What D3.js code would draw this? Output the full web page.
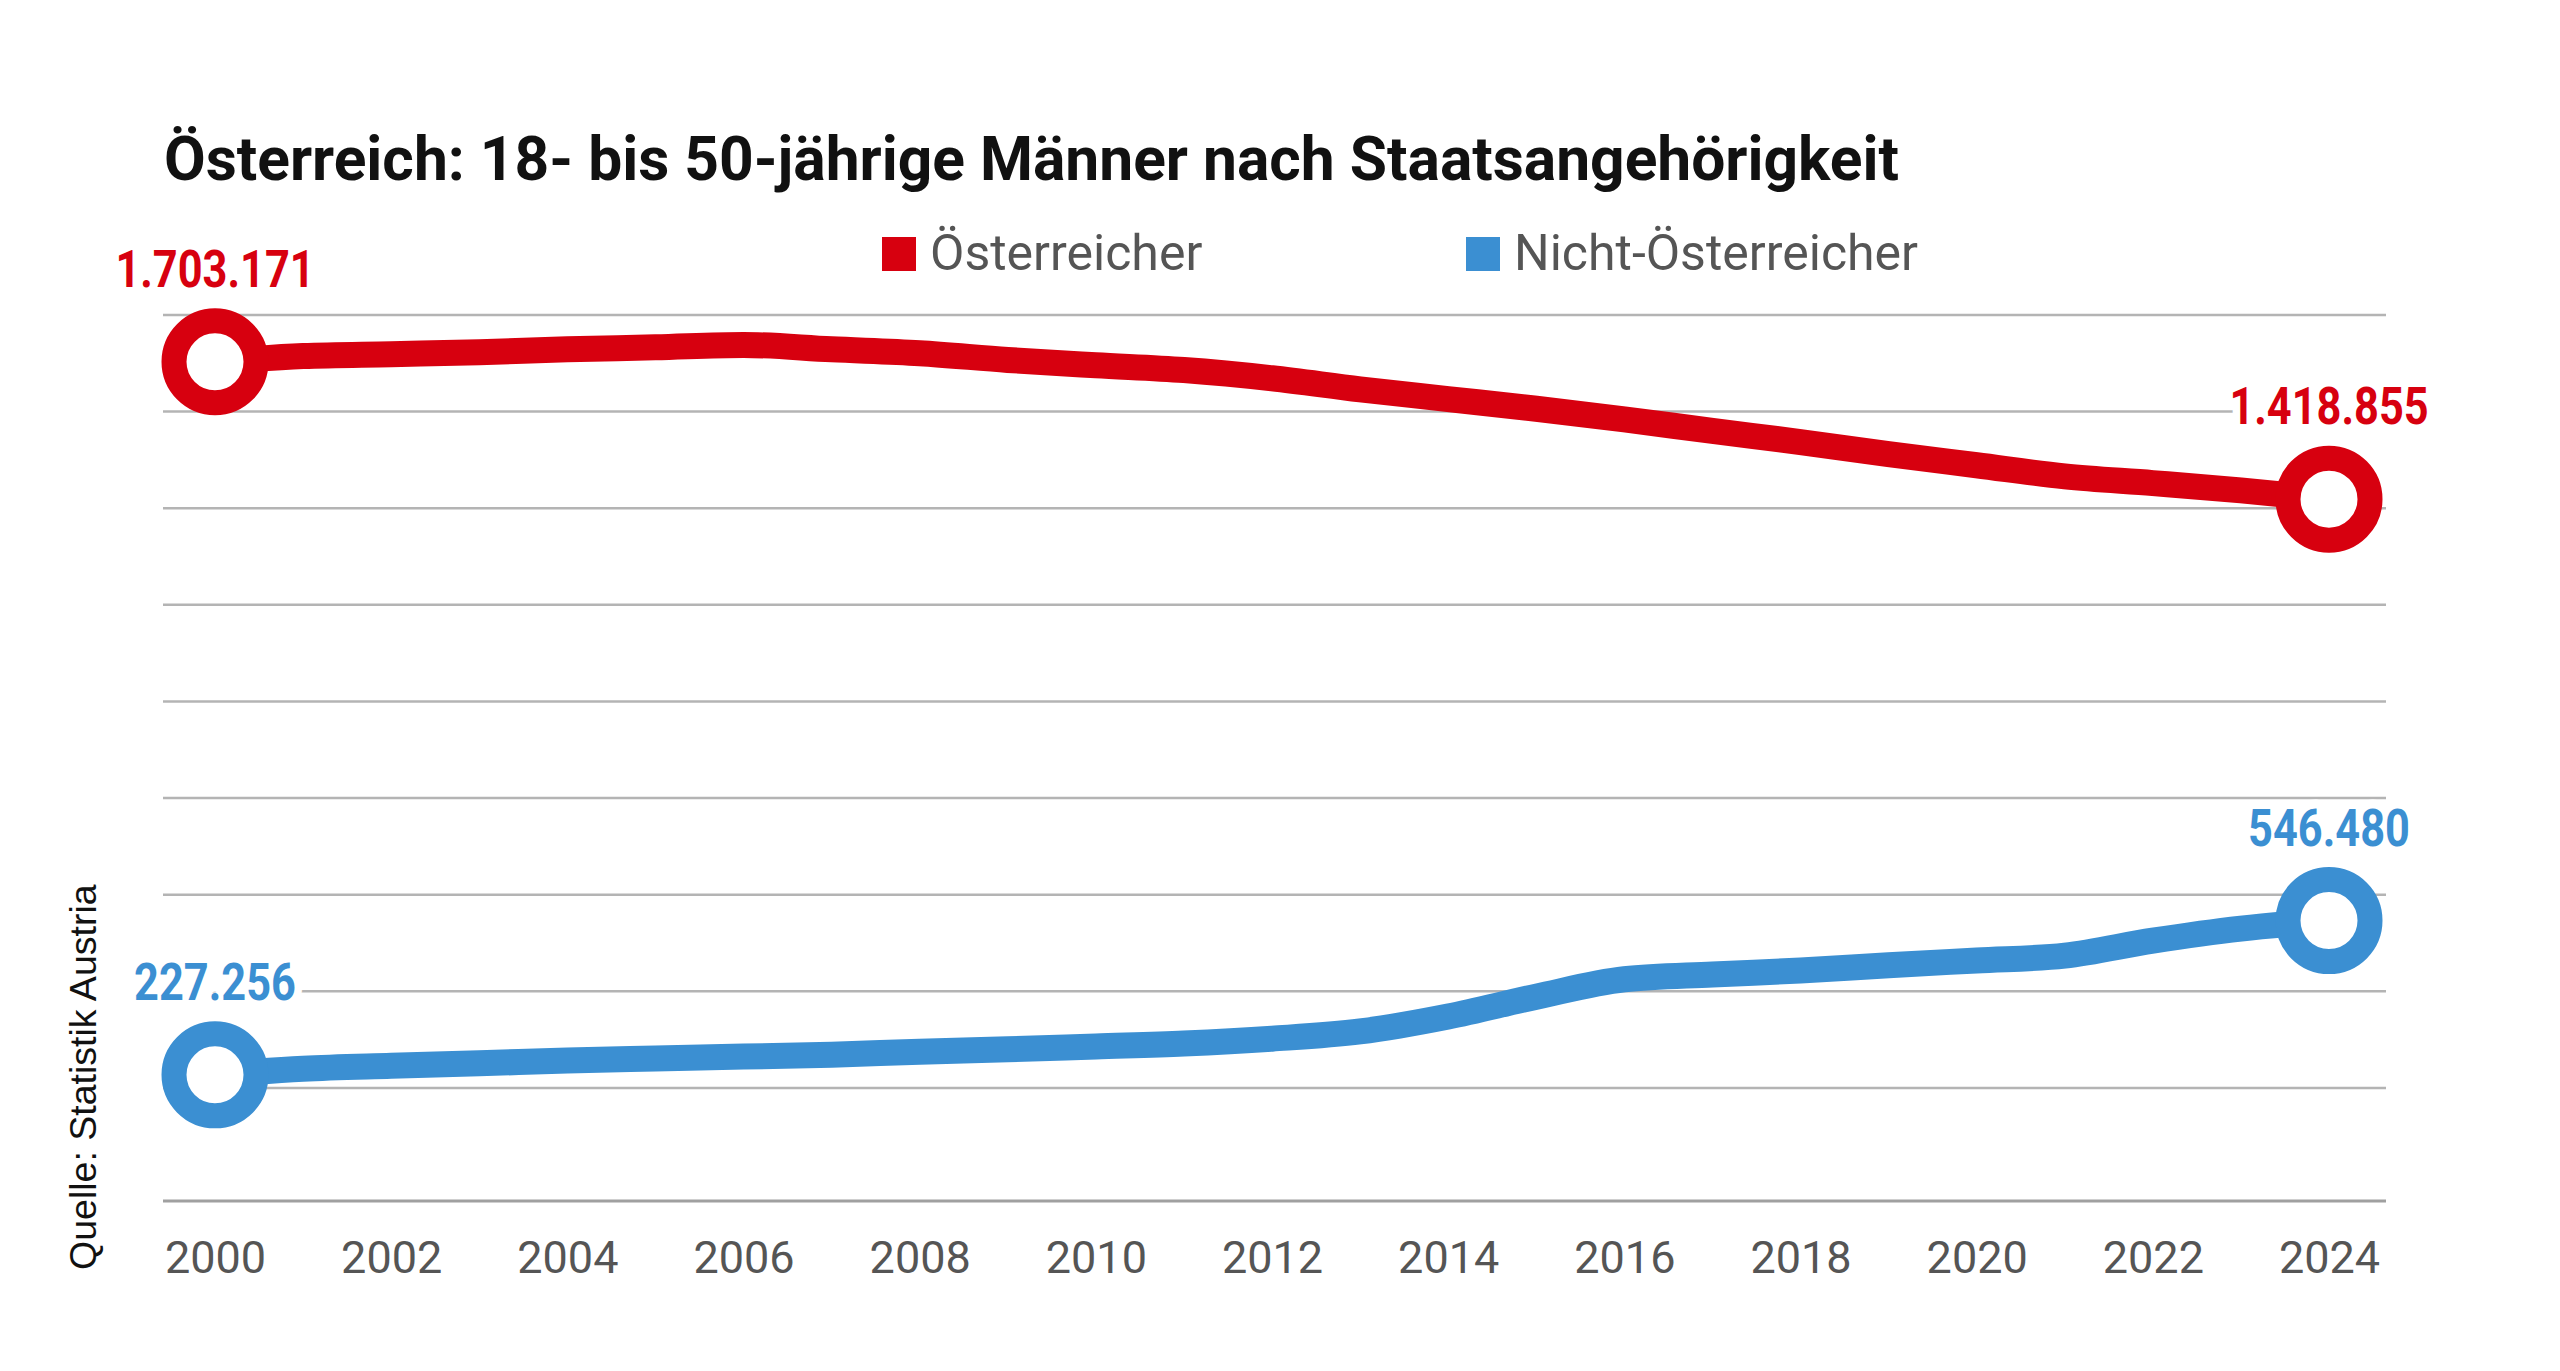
<!DOCTYPE html>
<html>
<head>
<meta charset="utf-8">
<script src="https://cdn.jsdelivr.net/npm/d3@7"></script>
<style>
  html, body { margin: 0; padding: 0; background: #fff; }
  svg { display: block; }
</style>
</head>
<body>
<svg id="chart" width="2560" height="1371"></svg>
<script>
// ---------- data ----------
const title = "Österreich: 18- bis 50-jährige Männer nach Staatsangehörigkeit";
const source = "Quelle: Statistik Austria";
const years = [2000,2001,2002,2003,2004,2005,2006,2007,2008,2009,2010,2011,2012,
               2013,2014,2015,2016,2017,2018,2019,2020,2021,2022,2023,2024];
const seriesNames = ["Österreicher", "Nicht-Österreicher"];
const seriesColors = ["#d7000f", "#3b8fd2"];
const oesterreicher = [1703171,1715000,1719000,1723000,1729000,1733000,1738000,1729000,1721000,
                       1707000,1696000,1686000,1669000,1646000,1626000,1606000,1584000,1560000,
                       1537000,1512000,1489000,1466000,1452000,1437000,1418855];
const nichtOesterreicher = [227256,240000,246000,251000,257000,261000,265000,269000,275000,
                            280000,286000,292000,302000,317000,348000,389000,425000,435000,
                            443000,454000,464000,474000,505000,530000,546480];
const xTicks = [2000,2002,2004,2006,2008,2010,2012,2014,2016,2018,2020,2022,2024];
const yGridTicks = [200000,400000,600000,800000,1000000,1200000,1400000,1600000,1800000];

// ---------- setup ----------
const svg = d3.select("#chart");
svg.append("rect").attr("width", 2560).attr("height", 1371).attr("fill", "#fff");

const x = d3.scaleLinear().domain([2000, 2024]).range([215, 2329]);
const y = d3.scaleLinear().domain([0, 1800000]).range([1184.6, 315]);
const gridLeft = 163, gridRight = 2386, axisY = 1201;

const de = d3.formatLocale({decimal: ",", thousands: ".", grouping: [3], currency: ["", "€"]});
const fmt = de.format(",d");

// ---------- title ----------
svg.append("text")
  .attr("x", 164).attr("y", 180)
  .attr("font-family", "Roboto, 'Noto Sans', sans-serif")
  .attr("font-weight", 700).attr("font-size", 60.5)
  .attr("fill", "#111")
  .text(title);

// ---------- legend ----------
const legendX = [882, 1466];
const legend = svg.append("g");
seriesNames.forEach((name, i) => {
  legend.append("rect")
    .attr("x", legendX[i]).attr("y", 237).attr("width", 34).attr("height", 34)
    .attr("fill", seriesColors[i]);
  legend.append("text")
    .attr("x", legendX[i] + 48).attr("y", 270)
    .attr("font-family", "Roboto, 'Noto Sans', sans-serif")
    .attr("font-size", 50).attr("fill", "#555")
    .text(name);
});

// ---------- gridlines ----------
svg.append("g").selectAll("line").data(yGridTicks).join("line")
  .attr("x1", gridLeft).attr("x2", gridRight)
  .attr("y1", d => y(d)).attr("y2", d => y(d))
  .attr("stroke", "#b4b4b4").attr("stroke-width", 2.5);

// ---------- x axis ----------
svg.append("line")
  .attr("x1", gridLeft).attr("x2", gridRight)
  .attr("y1", axisY).attr("y2", axisY)
  .attr("stroke", "#a0a0a0").attr("stroke-width", 3);

const xAxis = svg.append("g")
  .attr("transform", `translate(0,${axisY})`)
  .call(d3.axisBottom(x).tickValues(xTicks).tickSize(0).tickPadding(40).tickFormat(d3.format("d")));
xAxis.select(".domain").remove();
xAxis.selectAll("text")
  .attr("font-family", "Roboto, 'Noto Sans', sans-serif")
  .attr("font-size", 45).attr("fill", "#555");

// ---------- lines ----------
const allSeries = [oesterreicher, nichtOesterreicher];
const line = d3.line()
  .x((d, i) => x(years[i]))
  .y(d => y(d))
  .curve(d3.curveMonotoneX);

svg.append("g").selectAll("path").data(allSeries).join("path")
  .attr("d", d => line(d))
  .attr("fill", "none")
  .attr("stroke", (d, i) => seriesColors[i])
  .attr("stroke-width", 26)
  .attr("stroke-linejoin", "round");

// ---------- end markers + labels ----------
const ends = [];
allSeries.forEach((s, i) => {
  ends.push({year: years[0], value: s[0], color: seriesColors[i]});
  ends.push({year: years[years.length - 1], value: s[s.length - 1], color: seriesColors[i]});
});

svg.append("g").selectAll("circle").data(ends).join("circle")
  .attr("cx", d => x(d.year)).attr("cy", d => y(d.value))
  .attr("r", 41)
  .attr("fill", "#fff")
  .attr("stroke", d => d.color)
  .attr("stroke-width", 25);

const labels = svg.append("g").selectAll("text").data(ends).join("text")
  .attr("x", d => x(d.year)).attr("y", d => y(d.value) - 75)
  .attr("text-anchor", "middle")
  .attr("font-family", "Roboto, 'Noto Sans', sans-serif")
  .attr("font-weight", 700).attr("font-size", 51)
  .attr("fill", d => d.color)
  .attr("stroke", "#fff").attr("stroke-width", 18).attr("stroke-linejoin", "round")
  .attr("paint-order", "stroke")
  .text(d => fmt(d.value));
// the original number font is condensed: narrow the glyphs a little
labels.each(function() {
  const w = this.getComputedTextLength();
  d3.select(this).attr("textLength", w * 0.85).attr("lengthAdjust", "spacingAndGlyphs");
});

// ---------- source ----------
svg.append("text")
  .attr("transform", "translate(96,1270) rotate(-90)")
  .attr("font-family", "'Liberation Sans', Arial, sans-serif")
  .attr("font-size", 37.5).attr("fill", "#111")
  .text(source);
</script>
</body>
</html>
